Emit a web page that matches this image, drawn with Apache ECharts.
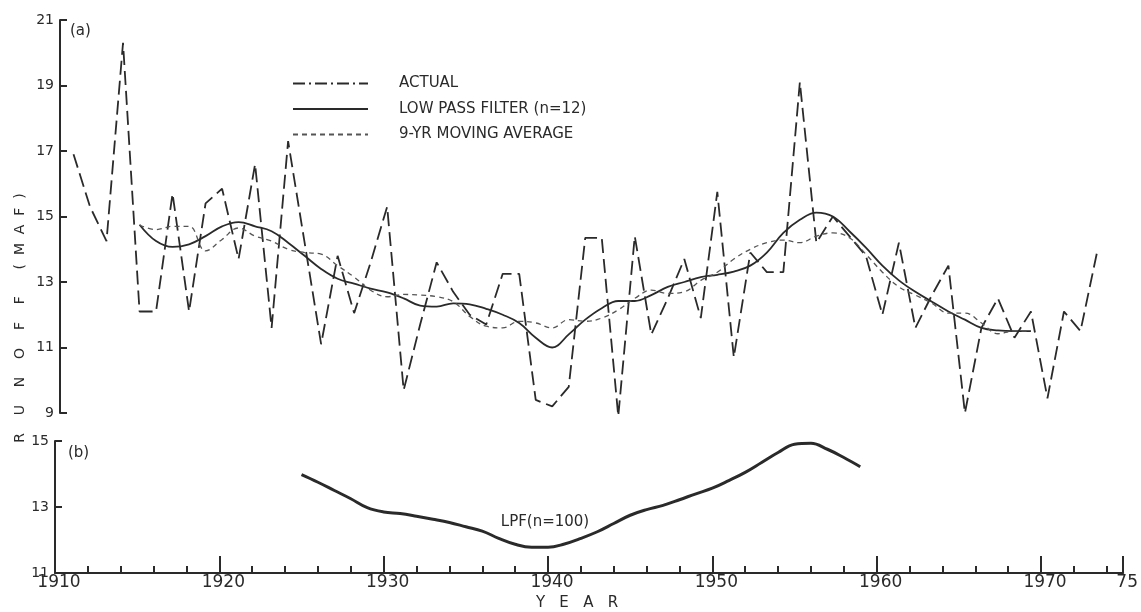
<!DOCTYPE html>
<html><head><meta charset="utf-8">
<script src="https://cdn.jsdelivr.net/npm/echarts@6/dist/echarts.min.js"></script>
<style>html,body{margin:0;padding:0;background:#fff}#c{width:1141px;height:612px}</style>
</head><body><div id="c"></div>
<script>
// ---- data ----
const actualStartYear = 1911;
const actualValues = [16.9, 15.3, 14.25, 20.3, 12.1, 12.1, 15.7, 12.1, 15.4, 15.85,
  13.7, 16.6, 11.6, 17.3, 14.2, 11.1, 13.8, 12.05, 13.6, 15.3,
  9.7, 11.7, 13.6, 12.7, 12.0, 11.7, 13.25, 13.25, 9.4, 9.2,
  9.8, 14.35, 14.35, 8.9, 14.4, 11.4, 12.5, 13.7, 11.9, 15.75,
  10.7, 13.9, 13.3, 13.3, 19.1, 14.2, 15.0, 14.4, 13.8, 12.0,
  14.2, 11.6, 12.6, 13.5, 9.0, 11.6, 12.5, 11.3, 12.1, 9.45,
  12.1, 11.5, 13.9];
const lpf12StartYear = 1915;
const lpf12Values = [14.75, 14.25, 14.07, 14.15, 14.4, 14.7, 14.83, 14.7, 14.55, 14.2,
  13.8, 13.4, 13.1, 12.95, 12.8, 12.68, 12.5, 12.28, 12.25, 12.35,
  12.32, 12.18, 12.0, 11.75, 11.3, 11.0, 11.4, 11.85, 12.2, 12.42,
  12.42, 12.6, 12.85, 13.0, 13.15, 13.22, 13.32, 13.5, 13.9, 14.5,
  14.9, 15.12, 15.0, 14.55, 14.05, 13.5, 13.05, 12.7, 12.4, 12.1,
  11.85, 11.6, 11.52, 11.5, 11.5];
const ma9StartYear = 1915;
const ma9Values = [14.74, 14.6, 14.7, 14.7, 13.95, 14.3, 14.65, 14.4, 14.25, 14.0,
  13.9, 13.85, 13.5, 13.15, 12.75, 12.55, 12.62, 12.6, 12.55, 12.4,
  11.95, 11.65, 11.6, 11.8, 11.75, 11.6, 11.85, 11.8, 11.9, 12.15,
  12.5, 12.75, 12.65, 12.7, 13.05, 13.3, 13.7, 14.0, 14.2, 14.28,
  14.2, 14.4, 14.5, 14.35, 13.85, 13.3, 12.85, 12.6, 12.35, 12.05,
  12.05, 11.75, 11.42, 11.5, 11.5];
const lpf100StartYear = 1925;
const lpf100Values = [13.98, 13.75, 13.5, 13.25, 12.98, 12.85, 12.8, 12.72, 12.63, 12.53,
  12.4, 12.27, 12.05, 11.87, 11.78, 11.78, 11.88, 12.05, 12.25, 12.5,
  12.75, 12.92, 13.05, 13.22, 13.4, 13.57, 13.8, 14.05, 14.35, 14.65,
  14.9, 14.93, 14.75, 14.5, 14.22];

const seriesNames = ['ACTUAL', 'LOW PASS FILTER (n=12)', '9-YR MOVING AVERAGE', 'LPF(n=100)'];
const yTicksA = [9, 11, 13, 15, 17, 19, 21];
const yTicksB = [11, 13, 15];
const xMajorTicks = [1910, 1920, 1930, 1940, 1950, 1960, 1970, 1975];
const xMajorLabels = ['1910', '1920', '1930', '1940', '1950', '1960', '1970', '75'];
const xMinorTicks = [];
for (let y = 1912; y <= 1974; y += 2) xMinorTicks.push(y);

function pairs(start, vals) { return vals.map((v, i) => [start + i, v]); }

const ink = '#2a2a2a';
const font = 'DejaVu Sans';

const chart = echarts.init(document.getElementById('c'), null, {renderer: 'canvas'});
chart.setOption({
  animation: false,
  backgroundColor: '#ffffff',
  textStyle: {fontFamily: font, color: ink},
  grid: [
    {left: 57, right: 11, top: 20, bottom: 199},
    {left: 55, right: 13, top: 441, bottom: 39}
  ],
  legend: {
    orient: 'vertical', left: 292, top: 76, padding: 0,
    itemWidth: 75, itemHeight: 14, itemGap: 10.5,
    itemStyle: {opacity: 0},
    textStyle: {fontSize: 15, color: ink, fontFamily: font, padding: [0, 0, 0, 26]},
    data: [
      {name: seriesNames[0], lineStyle: {type: [12, 4, 2, 4]}},
      {name: seriesNames[1]},
      {name: seriesNames[2]}
    ]
  },
  xAxis: [
    {gridIndex: 0, type: 'value', min: 1910, max: 1975, show: false},
    {gridIndex: 1, type: 'value', min: 1910, max: 1975, position: 'bottom',
      axisLine: {show: true, lineStyle: {color: ink, width: 2}},
      axisTick: {show: true, inside: true, length: 7, customValues: xMinorTicks, lineStyle: {color: ink, width: 2}},
      axisLabel: {show: false}, splitLine: {show: false}},
    {gridIndex: 1, type: 'value', min: 1910, max: 1975, position: 'bottom',
      axisLine: {show: false},
      axisTick: {show: true, inside: true, length: 17, customValues: xMajorTicks, lineStyle: {color: ink, width: 2}},
      axisLabel: {show: true, customValues: xMajorTicks, fontSize: 17, margin: 1, color: ink, padding: [0, 0, 0, 8],
        formatter: v => { const i = xMajorTicks.indexOf(v); return i >= 0 ? xMajorLabels[i] : ''; }},
      splitLine: {show: false}}
  ],
  yAxis: [
    {gridIndex: 0, type: 'value', min: 9, max: 21, offset: -3,
      axisLine: {show: true, lineStyle: {color: ink, width: 2}},
      axisTick: {show: true, inside: true, length: 7, customValues: yTicksA, lineStyle: {color: ink, width: 2}},
      axisLabel: {customValues: yTicksA, fontSize: 14, margin: 6, color: ink},
      splitLine: {show: false}},
    {gridIndex: 1, type: 'value', min: 11, max: 15,
      axisLine: {show: true, lineStyle: {color: ink, width: 2}},
      axisTick: {show: true, inside: true, length: 7, customValues: yTicksB, lineStyle: {color: ink, width: 2}},
      axisLabel: {customValues: yTicksB, fontSize: 14, margin: 6, color: ink},
      splitLine: {show: false}}
  ],
  series: [
    {name: seriesNames[0], type: 'line', xAxisIndex: 0, yAxisIndex: 0, symbol: 'none',
      data: pairs(actualStartYear, actualValues),
      lineStyle: {color: ink, width: 1.8, type: [14, 6]}, itemStyle: {color: ink}},
    {name: seriesNames[1], type: 'line', xAxisIndex: 0, yAxisIndex: 0, symbol: 'none', smooth: 0.4,
      data: pairs(lpf12StartYear, lpf12Values),
      lineStyle: {color: ink, width: 1.8, type: 'solid'}, itemStyle: {color: ink}},
    {name: seriesNames[2], type: 'line', xAxisIndex: 0, yAxisIndex: 0, symbol: 'none', smooth: 0.4,
      data: pairs(ma9StartYear, ma9Values),
      lineStyle: {color: '#555', width: 1.3, type: [5, 4]}, itemStyle: {color: '#555'}},
    {name: seriesNames[3], type: 'line', xAxisIndex: 1, yAxisIndex: 1, symbol: 'none', smooth: 0.4,
      data: pairs(lpf100StartYear, lpf100Values),
      lineStyle: {color: ink, width: 3}, itemStyle: {color: ink}}
  ],
  graphic: [
    {type: 'text', left: 70, top: 24, style: {text: '(a)', fill: ink, font: '15px ' + font}},
    {type: 'text', left: 68, top: 446, style: {text: '(b)', fill: ink, font: '15px ' + font}},
    {type: 'text', x: 545, y: 522, style: {text: 'LPF(n=100)', fill: ink, font: '15px ' + font, textAlign: 'center', textVerticalAlign: 'middle'}},
    {type: 'text', x: 577, y: 603, style: {text: 'Y   E   A   R', fill: ink, font: '15px ' + font, textAlign: 'center', textVerticalAlign: 'middle'}},
    {type: 'text', x: 20, y: 318, rotation: Math.PI / 2, style: {text: 'R    U    N    O    F    F      (  M  A  F  )', fill: ink, font: '14px ' + font, textAlign: 'center', textVerticalAlign: 'middle'}}
  ]
});
</script>
</body></html>
